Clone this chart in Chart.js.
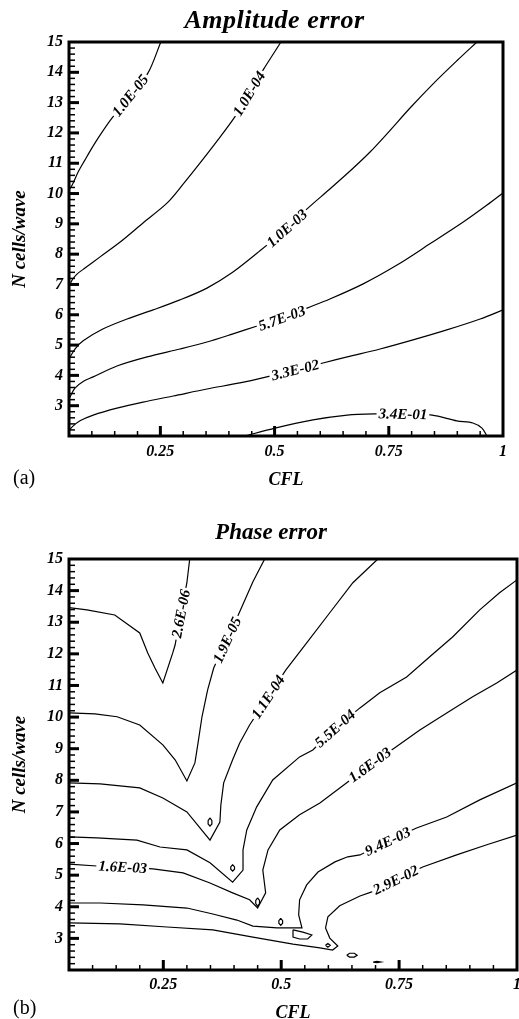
<!DOCTYPE html>
<html>
<head>
<meta charset="utf-8">
<title>Amplitude and phase error</title>
<script src="https://cdn.jsdelivr.net/npm/chart.js@4.4.1/dist/chart.umd.min.js"></script>
<style>
    html, body { margin: 0; padding: 0; background: #fff; overflow: hidden; width: 519px; height: 1019px; }
    canvas { position: absolute; left: 0; }
    #ampChart { top: 0; }
    #phaseChart { top: 500px; }
    .tag { position: absolute; left: 13px; font: 20px 'Liberation Serif', 'Times New Roman', serif; line-height: 22px; color: #000; }
    .ttl { position: absolute; width: 300px; text-align: center; color: #000; white-space: nowrap;
           font-family: 'Liberation Serif', 'Times New Roman', serif; font-style: italic; font-weight: bold; }
</style>
</head>
<body>
<canvas id="ampChart" width="549" height="500"></canvas>
<canvas id="phaseChart" width="542" height="530"></canvas>
<div class="ttl" style="left:124.5px; top:5px; font-size:26px; line-height:30px; letter-spacing:0.5px">Amplitude error</div>
<div class="ttl" style="left:121px; top:518px; font-size:23px; line-height:28px">Phase error</div>
<div class="tag" style="top:466px">(a)</div>
<div class="tag" style="top:996px">(b)</div>
<script>
/* axis tick labels */
const cflTicks = [0.25, 0.5, 0.75, 1];
const nTicks = [3, 4, 5, 6, 7, 8, 9, 10, 11, 12, 13, 14, 15];

/* (a) amplitude error contours, points are [CFL, N cells/wave] */
const ampLevels = ['1.0E-05', '1.0E-04', '1.0E-03', '5.7E-03', '3.3E-02', '3.4E-01'];
const ampC1 = [[0.251,15],[0.223,13.98],[0.184,13.24],[0.144,12.49],[0.118,11.93],[0.100,11.50],[0.085,11.11],[0.070,10.71],[0.057,10.28],[0.05,10.12]];
const ampC2 = [[0.514,15],[0.475,14.08],[0.444,13.30],[0.413,12.53],[0.376,11.77],[0.337,11.01],[0.302,10.35],[0.265,9.69],[0.212,9.03],[0.162,8.40],[0.118,7.91],[0.085,7.54],[0.068,7.35],[0.057,7.15],[0.05,6.92]];
const ampC3 = [[0.943,15],[0.899,14.38],[0.847,13.62],[0.797,12.83],[0.746,11.97],[0.709,11.37],[0.670,10.81],[0.621,10.15],[0.573,9.52],[0.527,8.86],[0.468,8.11],[0.409,7.41],[0.352,6.88],[0.293,6.49],[0.234,6.16],[0.177,5.86],[0.124,5.53],[0.081,5.14],[0.063,4.87],[0.05,4.54]];
const ampC4 = [[0.05,3.22],[0.063,3.58],[0.081,3.80],[0.103,3.95],[0.155,4.31],[0.221,4.61],[0.293,4.87],[0.352,5.10],[0.409,5.37],[0.462,5.63],[0.516,5.89],[0.571,6.22],[0.621,6.52],[0.694,7.02],[0.768,7.64],[0.840,8.34],[0.913,9.06],[0.965,9.62],[1.0,10.02]];
const ampC5 = [[0.05,2.17],[0.057,2.30],[0.074,2.50],[0.103,2.69],[0.155,2.92],[0.212,3.12],[0.278,3.32],[0.352,3.55],[0.424,3.75],[0.483,3.95],[0.545,4.18],[0.606,4.41],[0.659,4.61],[0.731,4.87],[0.803,5.17],[0.877,5.50],[0.950,5.86],[1.0,6.16]];
const ampC6 = [[0.435,2.0],[0.501,2.26],[0.584,2.53],[0.659,2.69],[0.720,2.73],[0.781,2.73],[0.845,2.69],[0.899,2.50],[0.934,2.43],[0.954,2.26],[0.965,2.0]];
const ampLabelAt = [[0.184,13.24],[0.444,13.30],[0.527,8.86],[0.516,5.89],[0.545,4.18],[0.781,2.73]];

/* (b) phase error contours */
const phaseLevels = ['2.6E-06', '1.9E-05', '1.1E-04', '5.5E-04', '1.6E-03', '1.6E-03', '9.4E-03', '2.9E-02'];
const phC1 = [[0.306,15],[0.300,14.25],[0.287,13.27],[0.275,12.28],[0.270,12.03],[0.249,11.08],[0.232,11.56],[0.217,12.03],[0.200,12.66],[0.147,13.23],[0.088,13.39],[0.05,13.46]];
const phC2 = [[0.465,15],[0.440,14.28],[0.412,13.33],[0.385,12.44],[0.357,11.56],[0.344,10.86],[0.332,10.01],[0.323,9.12],[0.317,8.55],[0.300,7.98],[0.275,8.65],[0.249,9.12],[0.200,9.75],[0.152,10.01],[0.105,10.10],[0.05,10.13]];
const phC3 = [[0.705,15],[0.652,14.25],[0.603,13.30],[0.554,12.35],[0.510,11.49],[0.472,10.64],[0.433,9.75],[0.412,9.18],[0.397,8.65],[0.378,7.92],[0.372,7.22],[0.370,6.68],[0.349,6.11],[0.300,7.0],[0.249,7.44],[0.200,7.76],[0.116,7.89],[0.05,7.92]];
const phC4 = [[1.0,14.34],[0.963,13.93],[0.921,13.39],[0.864,12.54],[0.815,11.91],[0.766,11.27],[0.709,10.77],[0.667,10.29],[0.614,9.64],[0.567,8.96],[0.539,8.74],[0.482,8.01],[0.448,7.16],[0.427,6.43],[0.419,5.80],[0.419,5.16],[0.397,4.78],[0.349,5.39],[0.300,5.80],[0.243,5.89],[0.194,6.11],[0.109,6.18],[0.05,6.21]];
const phC5 = [[1.0,11.49],[0.957,11.08],[0.906,10.64],[0.851,10.13],[0.794,9.59],[0.741,9.03],[0.688,8.49],[0.639,7.92],[0.582,7.28],[0.539,6.91],[0.497,6.43],[0.472,5.80],[0.461,5.16],[0.467,4.44],[0.450,3.96],[0.433,4.22],[0.397,4.44],[0.349,4.75],[0.292,5.07],[0.228,5.20],[0.164,5.26],[0.109,5.29],[0.05,5.35]];
const phC6 = [[1.0,7.92],[0.921,7.38],[0.851,6.84],[0.787,6.49],[0.726,6.07],[0.667,5.64],[0.641,5.58],[0.614,5.42],[0.578,5.10],[0.554,4.69],[0.539,4.22],[0.537,3.74],[0.544,3.33],[0.491,3.33],[0.440,3.39],[0.406,3.58],[0.355,3.77],[0.300,3.96],[0.207,4.06],[0.116,4.12],[0.05,4.12]];
const phC7 = [[1.0,6.27],[0.936,5.96],[0.872,5.64],[0.800,5.26],[0.743,4.85],[0.692,4.47],[0.667,4.34],[0.624,4.03],[0.599,3.68],[0.594,3.33],[0.603,3.01],[0.620,2.76],[0.609,2.63],[0.582,2.70],[0.525,2.82],[0.440,3.04],[0.355,3.27],[0.258,3.36],[0.158,3.46],[0.05,3.49]];
// small closed islands near the lower tips
const phIsle1 = [[0.349,6.81],[0.353,6.72],[0.353,6.62],[0.349,6.55],[0.345,6.62],[0.345,6.72],[0.349,6.81]];
const phIsle2 = [[0.397,5.33],[0.401,5.26],[0.401,5.19],[0.397,5.13],[0.393,5.19],[0.393,5.26],[0.397,5.33]];
const phIsle3 = [[0.450,4.28],[0.454,4.20],[0.454,4.10],[0.450,4.02],[0.446,4.10],[0.446,4.20],[0.450,4.28]];
const phIsle4 = [[0.499,3.63],[0.503,3.56],[0.503,3.48],[0.499,3.41],[0.495,3.48],[0.495,3.56],[0.499,3.63]];
const phIsle5 = [[0.594,2.78],[0.599,2.84],[0.604,2.78],[0.599,2.72],[0.594,2.78]];
const phIsle6 = [[0.639,2.47],[0.645,2.53],[0.655,2.53],[0.661,2.47],[0.655,2.41],[0.645,2.41],[0.639,2.47]];
const phIsle7 = [[0.695,2.25],[0.703,2.27],[0.711,2.25],[0.703,2.23],[0.695,2.25]];
const phIsle8 = [[0.525,3.27],[0.546,3.20],[0.565,3.11],[0.556,2.98],[0.539,2.98],[0.525,3.04],[0.525,3.27]];
const phaseLabelOn = [0, 1, 2, 3, 4, 4, 5, 6];
const phaseLabelAt = [[0.287,13.27],[0.385,12.44],[0.472,10.64],[0.614,9.64],[0.688,8.49],[0.164,5.26],[0.726,6.07],[0.743,4.85]];

const SERIF = "'Liberation Serif', 'Times New Roman', serif";
const boldItalic = size => ({ family: SERIF, size, style: 'italic', weight: 'bold', lineHeight: 1.2 });

function contourSets(lines, tension) {
    return lines.map(pts => ({
        data: pts.map(([x, y]) => ({ x, y })),
        showLine: true,
        borderColor: '#000',
        borderWidth: 1.2,
        pointRadius: 0,
        tension,
        fill: false,
    }));
}

/* level labels sit on a contour, turned along it, with a white box cutting the line */
function labelPlugin(lines, texts, on, at) {
    return {
        id: 'contourLabels',
        afterDatasetsDraw(chart) {
            const { ctx, scales: { x, y } } = chart;
            const px = p => [x.getPixelForValue(p[0]), y.getPixelForValue(p[1])];
            texts.forEach((t, k) => {
                const line = lines[on[k]];
                const [lx, ly] = px(at[k]);
                let best = 0, bd = Infinity;
                line.forEach((p, i) => {
                    const [cx, cy] = px(p);
                    const d = (cx - lx) ** 2 + (cy - ly) ** 2;
                    if (d < bd) { bd = d; best = i; }
                });
                const a = px(line[Math.max(best - 1, 0)]);
                const b = px(line[Math.min(best + 1, line.length - 1)]);
                let ang = Math.atan2(b[1] - a[1], b[0] - a[0]);
                if (ang > Math.PI / 2) ang -= Math.PI;
                if (ang < -Math.PI / 2) ang += Math.PI;

                ctx.save();
                ctx.font = `italic bold 15px ${SERIF}`;
                ctx.textAlign = 'center';
                ctx.textBaseline = 'middle';
                ctx.translate(lx, ly);
                ctx.rotate(ang);
                const w = ctx.measureText(t).width;
                ctx.fillStyle = '#fff';
                ctx.fillRect(-w / 2 - 2, -6, w + 4, 12);
                ctx.fillStyle = '#000';
                ctx.fillText(t, 0, 1);
                ctx.restore();
            });
        }
    };
}

/* thick frame plus inward ticks on the left and bottom */
const frameTicks = {
    id: 'frameTicks',
    afterDraw(chart) {
        const { ctx, chartArea: c, scales: { x, y } } = chart;
        ctx.save();
        ctx.strokeStyle = '#000';
        ctx.lineCap = 'butt';
        for (let i = 2; i < 20; i++) {
            const px = x.getPixelForValue(i * 0.05);
            const major = i % 5 === 0;
            ctx.lineWidth = major ? 3 : 1.5;
            ctx.beginPath();
            ctx.moveTo(px, c.bottom);
            ctx.lineTo(px, c.bottom - (major ? 10 : 5));
            ctx.stroke();
        }
        for (let i = 11; i < 75; i++) {
            const py = y.getPixelForValue(i * 0.2);
            const major = i % 5 === 0;
            ctx.lineWidth = major ? 3 : 1.5;
            ctx.beginPath();
            ctx.moveTo(c.left, py);
            ctx.lineTo(c.left + (major ? 10 : 6), py);
            ctx.stroke();
        }
        ctx.lineWidth = 3;
        ctx.strokeRect(c.left, c.top, c.right - c.left, c.bottom - c.top);
        ctx.restore();
    }
};

function buildChart(el, cfg) {
    return new Chart(el, {
        type: 'scatter',
        data: { datasets: contourSets(cfg.lines, cfg.tension) },
        options: {
            responsive: false,
            animation: false,
            events: [],
            layout: { padding: { left: 0, top: cfg.padTop, right: cfg.padRight, bottom: 0 } },
            plugins: {
                legend: { display: false },
                tooltip: { enabled: false },
                title: { display: false }
            },
            scales: {
                x: {
                    type: 'linear', min: 0.05, max: 1,
                    grid: { display: false, drawTicks: false },
                    border: { display: false },
                    afterBuildTicks: s => { s.ticks = cflTicks.map(v => ({ value: v })); },
                    afterFit: s => { s.height = cfg.xHeight; s.paddingLeft = 0; s.paddingRight = 0; },
                    ticks: { color: '#000', font: boldItalic(16), padding: cfg.xTickPad, maxRotation: 0, autoSkip: false,
                             callback: v => String(v) },
                    title: { display: true, text: 'CFL', color: '#000', font: boldItalic(18), padding: { top: 0, bottom: cfg.cflPad } }
                },
                y: {
                    type: 'linear', min: 2, max: 15,
                    grid: { display: false, drawTicks: false },
                    border: { display: false },
                    afterBuildTicks: s => { s.ticks = nTicks.map(v => ({ value: v })); },
                    afterFit: s => { s.width = 69; s.paddingTop = 0; s.paddingBottom = 0; },
                    ticks: { color: '#000', font: boldItalic(16), padding: 6, autoSkip: false, callback: v => String(v) },
                    title: { display: true, text: 'N cells/wave', color: '#000', font: boldItalic(19), padding: { top: 9, bottom: 0 } }
                }
            }
        },
        plugins: [cfg.labels, frameTicks]
    });
}

const ampLines = [ampC1, ampC2, ampC3, ampC4, ampC5, ampC6];
buildChart(document.getElementById('ampChart'), {
    lines: ampLines, tension: 0.3,
    padTop: 42, padRight: 46, xHeight: 64, xTickPad: 6, cflPad: 9,
    labels: labelPlugin(ampLines, ampLevels, [0, 1, 2, 3, 4, 5], ampLabelAt)
});

const phaseLines = [phC1, phC2, phC3, phC4, phC5, phC6, phC7,
    phIsle1, phIsle2, phIsle3, phIsle4, phIsle5, phIsle6, phIsle7, phIsle8];
buildChart(document.getElementById('phaseChart'), {
    lines: phaseLines, tension: 0,
    padTop: 59, padRight: 25, xHeight: 60, xTickPad: 5, cflPad: 6,
    labels: labelPlugin(phaseLines, phaseLevels, phaseLabelOn, phaseLabelAt)
});
</script>
</body>
</html>
